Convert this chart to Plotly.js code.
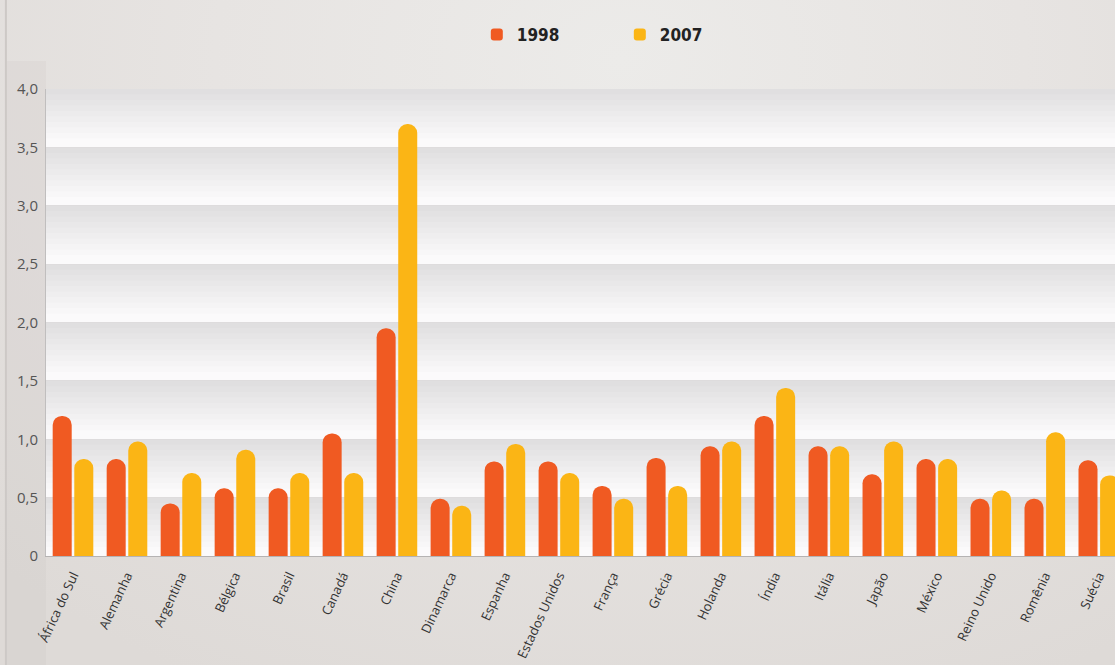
<!DOCTYPE html>
<html>
<head>
<meta charset="utf-8">
<script src="https://cdn.plot.ly/plotly-3.0.1.min.js"></script>
<style>
html,body{margin:0;padding:0;overflow:hidden;}
body{width:1115px;height:665px;background:radial-gradient(ellipse 900px 700px at 620px 60px,#ecebe9 0%,#e7e4e2 45%,#dedad7 100%);}
#chart{width:1115px;height:665px;}
</style>
</head>
<body>
<div id="chart"></div>
<script>
var categories = ["África do Sul","Alemanha","Argentina","Bélgica","Brasil","Canadá","China","Dinamarca","Espanha","Estados Unidos","França","Grécia","Holanda","Índia","Itália","Japão","México","Reino Unido","Romênia","Suécia"];
var values1998 = [1.20,0.83,0.45,0.58,0.58,1.05,1.95,0.49,0.81,0.81,0.60,0.84,0.94,1.20,0.94,0.70,0.83,0.49,0.49,0.82];
var values2007 = [0.83,0.98,0.71,0.91,0.71,0.71,3.70,0.43,0.96,0.71,0.49,0.60,0.98,1.44,0.94,0.98,0.83,0.56,1.06,0.69];
var seriesNames = ["1998","2007"];
var yTickVals = [0,0.5,1,1.5,2,2.5,3,3.5,4];
var yTickText = ["0","0,5","1,0","1,5","2,0","2,5","3,0","3,5","4,0"];

var traces = [
  {type:"bar", name:seriesNames[0], x:categories, y:values1998,
   marker:{color:"#f05a22", cornerradius:"50%"}},
  {type:"bar", name:seriesNames[1], x:categories, y:values2007,
   marker:{color:"#fbb515", cornerradius:"50%"}}
];

// soft gradient bands behind the bars (overlapping translucent layers)
var shapes = [];
for (var i=0;i<yTickVals.length-1;i++){
  var lo = yTickVals[i], hi = yTickVals[i+1];
  var N = 9;
  for (var k=0;k<N;k++){
    shapes.push({type:"rect", xref:"paper", yref:"y", layer:"below",
      x0:0, x1:1, y1:hi, y0: hi-(hi-lo)*0.85*(k+1)/N,
      fillcolor:"rgba(40,30,40,0.01)", line:{width:0}});
  }
}
// left frame line
shapes.push({type:"line", xref:"paper", yref:"paper", x0:-0.0375, x1:-0.0375, y0:-0.234, y1:1.191,
  line:{color:"#cdc9c6", width:2}});
shapes.push({type:"rect", xref:"paper", yref:"paper", layer:"below",
  x0:-0.0365, x1:0, y0:-0.234, y1:1.06, fillcolor:"rgba(150,140,135,0.06)", line:{width:0}});

var layout = {
  width:1115, height:665,
  margin:{l:46, r:0, t:89, b:109, pad:0},
  paper_bgcolor:"rgba(0,0,0,0)",
  plot_bgcolor:"#fbfafb",
  barmode:"group", bargap:0.2, bargroupgap:0.12,
  font:{family:"Open Sans, sans-serif", color:"#333"},
  showlegend:true,
  legend:{orientation:"h", x:0.403, xanchor:"left", y:1.116, yanchor:"middle",
    font:{size:17, color:"#222", family:"'Liberation Sans Narrow', 'DejaVu Sans Condensed', 'Open Sans', sans-serif", weight:"bold"},
    bgcolor:"rgba(0,0,0,0)", entrywidth:98, entrywidthmode:"pixels", itemclick:false},
  xaxis:{type:"category", range:[-0.5,19.3], tickangle:-65, showgrid:false,
    showline:true, linecolor:"#b5b3b3", linewidth:1, ticks:"", ticklabelstandoff:6,
    tickfont:{size:13, color:"#333", family:"Open Sans, sans-serif"}, fixedrange:true},
  yaxis:{range:[0,4], tickvals:yTickVals, ticktext:yTickText, showgrid:true,
    gridcolor:"#dedcdd", gridwidth:1, zeroline:false, showline:true, linecolor:"#c0bebe",
    ticks:"", ticklabelstandoff:4, tickfont:{size:15, color:"#555", family:"Open Sans, sans-serif"}, fixedrange:true},
  shapes:shapes
};

Plotly.newPlot("chart", traces, layout, {displayModeBar:false, staticPlot:true});
</script>
</body>
</html>
